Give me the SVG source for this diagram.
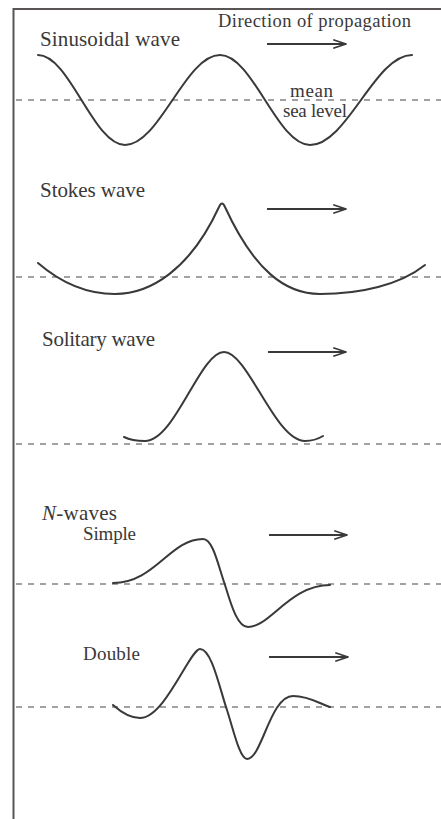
<svg xmlns="http://www.w3.org/2000/svg" width="441" height="819" viewBox="0 0 441 819">
<defs>
<style>
.frame{stroke:#5a5555;stroke-width:2;fill:none}
.msl{stroke:#444;stroke-width:1.1;stroke-dasharray:6 6;fill:none}
.wave{stroke:#3a3838;stroke-width:2;fill:none;stroke-linecap:round;stroke-linejoin:round}
.arrow{stroke:#3a3838;stroke-width:2;fill:none;marker-end:url(#head)}
.t{font-family:"Liberation Serif","Times New Roman",serif;fill:#3a3838}
.big{font-size:21px}
.small{font-size:19px}
.dir{font-size:18.5px}
</style>
<marker id="head" markerUnits="userSpaceOnUse" viewBox="0 0 14 10" refX="13" refY="5" markerWidth="14" markerHeight="10" orient="auto">
<path d="M1,1 L13,5 L1,9" fill="none" stroke="#3a3838" stroke-width="1.8" stroke-linecap="round" stroke-linejoin="round"/>
</marker>
</defs>
<rect width="441" height="819" fill="#ffffff"/>
<g id="frame">
<path class="frame" d="M13.5,819 L13.5,9 L441,9"/>
</g>

<g id="sinusoidal">
<line class="msl" x1="16" y1="100" x2="441" y2="100"/>
<path class="wave" d="M38,55 C69.6,55 93.4,145 125,145 C159.5,145 185.5,55 220,55 C252.7,55 277.3,145 310,145 C347,145 375,55 412,55"/>
<text class="t big" x="40" y="46" textLength="140">Sinusoidal wave</text>
<text class="t dir" x="218" y="27" textLength="193">Direction of propagation</text>
<text class="t small" x="290" y="97" textLength="43">mean</text>
<text class="t small" x="283" y="117" textLength="64">sea level</text>
</g>

<g id="stokes">
<line class="msl" x1="16" y1="277" x2="441" y2="277"/>
<path class="wave" d="M38,263 C60,282 85,294 115,294 C150,294 190,270 219,207 Q222,200 225,207 C254,270 285,294 320,294 C360,294 400,285 425,265"/>
<text class="t big" x="40" y="197" textLength="105">Stokes wave</text>
</g>

<g id="solitary">
<line class="msl" x1="16" y1="444" x2="441" y2="444"/>
<path class="wave" d="M124,437 C130,440 137,441 145,441 C175,441 200,352 224,352 C248,352 275,441 305,441 C312,441 318,439 323,436"/>
<text class="t big" x="42" y="346" textLength="113">Solitary wave</text>
</g>

<g id="n-simple">
<line class="msl" x1="16" y1="584" x2="441" y2="584"/>
<path class="wave" d="M113,583 C155,583 170,539 203,539 C213,539 218,565 225,585 C232,608 238,627 248,627 C270,627 290,585 330,585"/>
<text class="t big" x="42" y="520" textLength="75"><tspan font-style="italic">N</tspan>-waves</text>
<text class="t small" x="83" y="540" textLength="53">Simple</text>
</g>

<g id="n-double">
<line class="msl" x1="16" y1="707" x2="441" y2="707"/>
<path class="wave" d="M113,705 C122,713 130,718 140,718 C165,718 190,649 200,649 C212,649 220,690 227,710 C234,732 240,759 247,759 C262,759 270,696 293,696 C310,696 322,705 330,707"/>
<text class="t small" x="83" y="660" textLength="57">Double</text>
</g>

<g id="arrows">
<line class="arrow" x1="267" y1="44" x2="346" y2="44"/>
<line class="arrow" x1="267" y1="209" x2="346" y2="209"/>
<line class="arrow" x1="268" y1="352" x2="346" y2="352"/>
<line class="arrow" x1="269" y1="535" x2="347" y2="535"/>
<line class="arrow" x1="269" y1="657" x2="348" y2="657"/>
</g>
</svg>
